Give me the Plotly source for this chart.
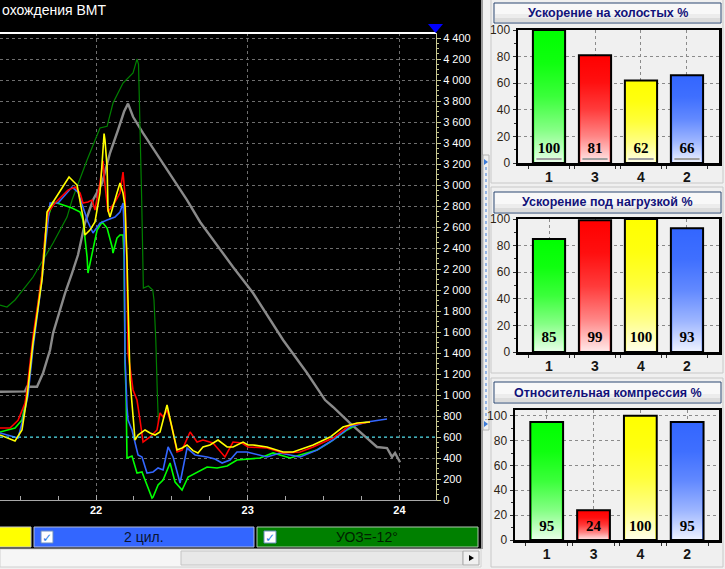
import plotly.graph_objects as go

# ---------------- data: main chart ----------------
gray_x = [21.367, 21.532, 21.545, 21.611, 21.651, 21.697, 21.717, 21.763, 21.796, 21.842, 21.881, 21.927,
          21.980, 22.040, 22.092, 22.145, 22.185, 22.211, 22.244, 22.310, 22.442, 22.600, 22.686, 22.903,
          23.035, 23.233, 23.391, 23.510, 23.562, 23.674, 23.786, 23.852, 23.918, 23.951, 23.971, 24.004]
gray_y = [1031, 1035, 1079, 1079, 1210, 1428, 1590, 1810, 1970, 2160, 2333, 2638,
          2857, 3019, 3305, 3524, 3700, 3775, 3650, 3495, 3210, 2857, 2648, 2219,
          1971, 1524, 1210, 952, 886, 733, 590, 505, 495, 410, 448, 360]

uoz_x = [21.367, 21.413, 21.466, 21.519, 21.585, 21.651, 21.717, 21.809, 21.842, 21.941, 22.026, 22.073,
         22.112, 22.178, 22.244, 22.270, 22.280, 22.301, 22.308, 22.312, 22.345, 22.374, 22.382, 22.394,
         22.404, 22.411]
uoz_y = [1857, 1838, 1905, 2000, 2124, 2286, 2448, 2695, 2857, 3238, 3543, 3560,
         3781, 3971, 4067, 4200, 4150, 2857, 2190, 2019, 2038, 2000, 1905, 1524,
         1019, 740]

red_x = [21.367, 21.433, 21.486, 21.532, 21.545, 21.585, 21.618, 21.644, 21.664, 21.684, 21.730, 21.763,
         21.815, 21.862, 21.895, 21.914, 21.947, 21.974, 21.993, 22.026, 22.046, 22.059, 22.079, 22.125,
         22.158, 22.178, 22.191, 22.204, 22.211, 22.244, 22.270, 22.290, 22.310, 22.356, 22.402, 22.422,
         22.442, 22.468, 22.501, 22.534, 22.567, 22.620, 22.666, 22.705, 22.771, 22.850, 22.903, 22.962,
         23.002, 23.127, 23.233, 23.345, 23.431, 23.562, 23.674, 23.806]
red_y = [686, 686, 760, 924, 1050, 1560, 1880, 2150, 2520, 2740, 2829, 2880,
         2952, 2981, 2924, 2829, 2838, 2857, 2762, 3019, 3230, 3000, 2743, 2838,
         2924, 3124, 2900, 2219, 1400, 1048, 952, 762, 552, 600, 667, 829,
         790, 857, 695, 457, 476, 648, 552, 571, 543, 410, 552, 543,
         505, 495, 448, 457, 505, 590, 714, 743]

yel_x = [21.367, 21.466, 21.512, 21.532, 21.545, 21.585, 21.618, 21.644, 21.664, 21.677, 21.717, 21.822,
         21.875, 21.895, 21.914, 21.927, 21.960, 21.993, 22.026, 22.040, 22.053, 22.059, 22.073, 22.079,
         22.092, 22.138, 22.158, 22.178, 22.191, 22.204, 22.218, 22.224, 22.244, 22.257, 22.277, 22.323,
         22.356, 22.389, 22.422, 22.468, 22.501, 22.534, 22.567, 22.600, 22.639, 22.672, 22.705, 22.751,
         22.804, 22.831, 22.864, 22.903, 22.969, 23.002, 23.035, 23.127, 23.233, 23.299, 23.431, 23.543,
         23.628, 23.721, 23.806]
yel_y = [619, 562, 667, 857, 980, 1500, 1850, 2100, 2450, 2743, 2838, 3076,
         3000, 2857, 2695, 2524, 2571, 2648, 2924, 3210, 3490, 3428, 3171, 2762,
         2695, 2924, 3019, 2924, 2800, 2286, 1500, 1143, 800, 571, 619, 667,
         638, 619, 648, 905, 686, 476, 495, 524, 470, 448, 505, 524,
         571, 543, 505, 505, 552, 524, 524, 505, 457, 457, 524, 600,
         695, 733, 743]

blu_x = [21.367, 21.486, 21.512, 21.532, 21.552, 21.585, 21.618, 21.644, 21.664, 21.697, 21.750, 21.842,
         21.881, 21.914, 21.947, 21.980, 22.026, 22.073, 22.125, 22.158, 22.178, 22.185, 22.191, 22.204,
         22.211, 22.237, 22.277, 22.303, 22.336, 22.376, 22.409, 22.442, 22.475, 22.508, 22.554, 22.600,
         22.653, 22.732, 22.784, 22.831, 22.883, 22.929, 22.995, 23.127, 23.213, 23.345, 23.457, 23.562,
         23.674, 23.786, 23.918]
blu_y = [638, 590, 733, 880, 1000, 1450, 1800, 2100, 2400, 2829, 2829, 2981,
         2933, 2781, 2648, 2543, 2638, 2667, 2695, 2743, 2829, 2600, 1362, 886,
         762, 667, 429, 410, 257, 267, 305, 286, 505, 410, 162, 495,
         429, 410, 390, 352, 381, 457, 457, 410, 448, 410, 476, 571,
         695, 743, 771]

grn_x = [21.367, 21.466, 21.512, 21.532, 21.552, 21.585, 21.618, 21.644, 21.664, 21.684, 21.717, 21.763,
         21.842, 21.895, 21.914, 21.941, 21.947, 21.974, 22.007, 22.040, 22.073, 22.106, 22.112, 22.138,
         22.158, 22.178, 22.185, 22.191, 22.198, 22.204, 22.237, 22.270, 22.303, 22.323, 22.369, 22.376,
         22.409, 22.442, 22.488, 22.521, 22.567, 22.607, 22.666, 22.732, 22.798, 22.864, 22.929, 22.995,
         23.081, 23.167, 23.279, 23.345, 23.457, 23.543, 23.655, 23.740, 23.806]
grn_y = [648, 686, 762, 900, 1050, 1500, 1850, 2150, 2500, 2700, 2838, 2820,
         2781, 2743, 2667, 2314, 2162, 2352, 2571, 2648, 2590, 2410, 2352, 2495,
         2524, 2524, 2314, 1305, 1019, 400, 419, 257, 267, 190, 19, 29,
         143, 190, 352, 171, 95, 219, 267, 314, 305, 324, 381, 390,
         400, 448, 400, 429, 476, 552, 667, 733, 743]

y_tick_vals = list(range(0, 4401, 200))
y_tick_text = ["0", "200", "400", "600", "800", "1 000", "1 200", "1 400", "1 600", "1 800", "2 000",
               "2 200", "2 400", "2 600", "2 800", "3 000", "3 200", "3 400", "3 600", "3 800", "4 000",
               "4 200", "4 400"]
threshold = 600

# ---------------- data: bar panels ----------------
cyl_labels = ["1", "3", "4", "2"]
cyl_colors = ["#00ff00", "#ff0000", "#ffff00", "#3366ff"]
idle_accel = [100, 81, 62, 66]
load_accel = [85, 99, 100, 93]
rel_compr = [95, 24, 100, 95]
panel_titles = ["Ускорение на холостых %", "Ускорение под нагрузкой %", "Относительная компрессия %"]
legend_texts = ["2 цил.", "УОЗ=-12°"]
chart_title = "охождения ВМТ"

W, H = 725, 569
def px(x):
    return x / W
def py(y):
    return 1 - y / H

fig = go.Figure()

# main chart lines
fig.add_trace(go.Scatter(x=gray_x, y=gray_y, mode="lines", line=dict(color="#8a8a8a", width=2.4),
                         showlegend=False, xaxis="x", yaxis="y"))
fig.add_trace(go.Scatter(x=uoz_x, y=uoz_y, mode="lines", line=dict(color="#008000", width=1.2),
                         showlegend=False, xaxis="x", yaxis="y"))
for xs, ys, col in [(grn_x, grn_y, "#00ff00"), (blu_x, blu_y, "#3366ff"),
                    (red_x, red_y, "#ff0000"), (yel_x, yel_y, "#ffff00")]:
    fig.add_trace(go.Scatter(x=xs, y=ys, mode="lines", line=dict(color=col, width=1.6),
                             showlegend=False, xaxis="x", yaxis="y"))

# bar panels
panels = [(idle_accel, "x2", "y2"), (load_accel, "x3", "y3"), (rel_compr, "x4", "y4")]
bar_w = 0.70
for pi, (vals, xa, ya) in enumerate(panels):
    pos = list(range(len(cyl_labels)))
    fig.add_trace(go.Bar(x=pos, y=vals, width=bar_w, marker=dict(color=cyl_colors, line=dict(color="black", width=2)),
                         showlegend=False, xaxis=xa, yaxis=ya))
    hw = bar_w / 2 - 0.03
    for i, v in zip(pos, vals):
        fig.add_trace(go.Scatter(
            x=[i - hw, i + hw, i + hw, i - hw, i - hw], y=[0.8, 0.8, v, v, 0.8],
            mode="lines", line=dict(width=0), fill="toself",
            fillgradient=dict(type="vertical", start=0, stop=v,
                              colorscale=[[0, "rgba(255,255,255,0.92)"], [0.25, "rgba(255,255,255,0.52)"],
                                          [0.5, "rgba(255,255,255,0.23)"], [0.75, "rgba(255,255,255,0.06)"],
                                          [1, "rgba(255,255,255,0)"]]),
            showlegend=False, hoverinfo="skip", xaxis=xa, yaxis=ya))
    if pi == 0:
        fig.add_trace(go.Scatter(x=pos, y=[3] * len(pos), mode="markers",
                                 marker=dict(symbol="line-ew", size=18, line=dict(color="#a0a0a0", width=2)),
                                 showlegend=False, hoverinfo="skip", xaxis=xa, yaxis=ya))
    fig.add_trace(go.Scatter(x=pos, y=[10] * len(pos), mode="text", text=[str(v) for v in vals],
                             textfont=dict(family="Liberation Serif", size=15, color="black", weight="bold"),
                             showlegend=False, hoverinfo="skip", xaxis=xa, yaxis=ya))

grid_dot = dict(showgrid=True, gridcolor="#6e6e6e", griddash="dot", gridwidth=1)

layout = dict(
    template="none",
    width=W, height=H, autosize=False, margin=dict(l=0, r=0, t=0, b=0, pad=0),
    paper_bgcolor="#f0f0f0", plot_bgcolor="rgba(0,0,0,0)",
    font=dict(family="Liberation Sans"),
    bargap=0, hovermode=False,
    xaxis=dict(domain=[0, px(436)], range=[21.367, 24.241], anchor="y", dtick=1, tick0=22, automargin=False,
               ticks="inside", ticklen=5, tickcolor="#a8a8a8",
               minor=dict(dtick=0.25, tick0=22, ticks="inside", ticklen=4, tickcolor="#a8a8a8", showgrid=False),
               showline=True, linecolor="#a8a8a8", linewidth=1, zeroline=False,
               tickfont=dict(color="white", size=11, weight="bold", shadow="1px 1px 1px #000"),
               **grid_dot),
    yaxis=dict(domain=[py(500), py(33)], range=[0, 4448], anchor="x", side="right", automargin=False,
               tickvals=y_tick_vals, ticktext=y_tick_text, ticks="outside", ticklen=4, tickcolor="#c8c890",
               minor=dict(dtick=50, ticks="outside", ticklen=2, tickcolor="#c8c890", showgrid=False),
               showline=True, linecolor="#c8c890", linewidth=1, zeroline=False,
               tickfont=dict(color="white", size=11), **grid_dot),
)

bar_y_domains = [(163, 30), (352, 219), (540, 410)]
bar_x_domains = [(518, 719), (518, 719), (515, 719)]
bar_x_ranges = [[-0.674, 3.696], [-0.674, 3.696], [-0.677, 3.68]]
bar_y_ranges = [[0, 100], [0, 100], [0, 104.6]]
for k in range(3):
    n = k + 2
    layout[f"xaxis{n}"] = dict(domain=[px(bar_x_domains[k][0]), px(bar_x_domains[k][1])], range=bar_x_ranges[k],
                               anchor=f"y{n}", tickvals=list(range(len(cyl_labels))), ticktext=cyl_labels,
                               automargin=False,
                               showline=True, linecolor="black", linewidth=2.5, mirror=True, zeroline=False,
                               ticks="", tickfont=dict(size=14, color="#151515", weight="bold"),
                               minor=dict(tickvals=[-0.45, 0.45, 0.55, 1.45, 1.55, 2.45, 2.55, 3.45],
                                          ticks="outside", ticklen=3, tickcolor="#303030", showgrid=False),
                               showgrid=True, gridcolor="#8a8a8a", griddash="dot", gridwidth=1)
    layout[f"yaxis{n}"] = dict(domain=[py(bar_y_domains[k][0]), py(bar_y_domains[k][1])], range=bar_y_ranges[k],
                               anchor=f"x{n}", dtick=20, showline=True, linecolor="black", linewidth=2.5,
                               automargin=False,
                               mirror=True, zeroline=False, ticks="outside", ticklen=3, tickcolor="#303030",
                               minor=dict(dtick=10, ticks="outside", ticklen=2, tickcolor="#303030", showgrid=False),
                               tickfont=dict(size=12, color="#2e2414"),
                               showgrid=True, gridcolor="#8a8a8a", griddash="dot", gridwidth=1)

shapes = []
def rect(x0, y0, x1, y1, fill, line=None, lw=1, layer="below"):
    shapes.append(dict(type="rect", xref="paper", yref="paper", x0=px(x0), x1=px(x1), y0=py(y1), y1=py(y0),
                       fillcolor=fill, line=dict(color=line or fill, width=lw if line else 0), layer=layer))

# black chart background
rect(0, 0, 481, 549, "#000000")
rect(481, 0, 483, 549, "#9a9a9a")
# top white line of the chart
shapes.append(dict(type="line", xref="paper", yref="paper", x0=px(0), x1=px(436), y0=py(33), y1=py(33),
                   line=dict(color="white", width=2), layer="above"))
# threshold line
shapes.append(dict(type="line", xref="x", yref="y", x0=21.367, x1=24.241, y0=threshold, y1=threshold,
                   line=dict(color="#30e0f0", width=1, dash="dot"), layer="above"))
# blue marker triangle
shapes.append(dict(type="path", xref="paper", yref="paper",
                   path=f"M {px(428)} {py(24)} L {px(443)} {py(24)} L {px(435.5)} {py(33)} Z",
                   fillcolor="#0000ff", line=dict(width=0), layer="above"))
# legend strip buttons
rect(-3, 527, 31, 547, "#ffff00", "#c8c8c8", 1, "above")
rect(34, 527, 254, 547, "#3366ff", "#b0b8d8", 1, "above")
rect(257, 527, 478, 547, "#008000", "#b0c8b0", 1, "above")
for cx in (41, 264):
    rect(cx, 531, cx + 12, 543, "#ffffff", "#6a8cc0", 1, "above")
# scrollbar
rect(0, 549, 481, 567, "#f6f6f6", "#d0d0d0", 1)
rect(181, 551, 463, 565, "#e8e8e8", "#c4c4c4", 1)
rect(463, 551, 479, 565, "#f0f0f0", "#a8a8a8", 1)
shapes.append(dict(type="path", xref="paper", yref="paper",
                   path=f"M {px(469)} {py(555)} L {px(474)} {py(558)} L {px(469)} {py(561)} Z",
                   fillcolor="#000000", line=dict(width=0), layer="above"))
# splitter
rect(483, 155, 489, 430, "#f0f0f0", "#b4b4b4", 1)
shapes.append(dict(type="line", xref="paper", yref="paper", x0=px(486), x1=px(486), y0=py(167), y1=py(420),
                   line=dict(color="#3a7ad8", width=1, dash="dot")))
for ty in (159, 421):
    shapes.append(dict(type="path", xref="paper", yref="paper",
                       path=f"M {px(484)} {py(ty)} L {px(488)} {py(ty + 3)} L {px(484)} {py(ty + 6)} Z",
                       fillcolor="#3a7ad8", line=dict(width=0)))
# right panel frames and headers
for (fy0, fy1), (hy0, hy1) in zip([(-3, 183), (187, 373), (378, 567)], [(3, 23), (192, 213), (382, 403)]):
    rect(491, fy0, 723, fy1, "rgba(0,0,0,0)", "#c8c8c8", 1)
    rect(494, hy0, 721, hy1, "#f8f8f8", "#2a4670", 1)
    rect(495, hy1 - 9, 720, hy1 - 5, "#ececec")
    rect(495, hy1 - 5, 720, hy1 - 1, "#dcdcdc")

def note(x, y, text, font, xanchor="center"):
    return dict(xref="paper", yref="paper", x=px(x), y=py(y), xanchor=xanchor, yanchor="middle",
                text=text, showarrow=False, font=font)

annotations = [
    note(0, 10, chart_title, dict(color="white", size=14, family="Liberation Sans"), xanchor="left"),
    note(144, 537, legend_texts[0], dict(color="#0a1430", size=14)),
    note(367, 537, legend_texts[1], dict(color="#002000", size=14)),
]
for cx in (47, 270):
    annotations.append(note(cx, 537.5, "✓", dict(color="#2a7ae2", size=12, family="DejaVu Sans", weight="bold")))
for t, (hy0, hy1) in zip(panel_titles, [(3, 23), (192, 213), (382, 403)]):
    annotations.append(note(607.5, (hy0 + hy1) / 2, t, dict(color="#12127a", size=12.5, weight="bold")))

layout["shapes"] = shapes
layout["annotations"] = annotations
fig.update_layout(**layout)
fig.write_html("out.html", config={"displayModeBar": False, "staticPlot": True},
               post_script="document.body.style.margin='0px';document.body.style.overflow='hidden';")
